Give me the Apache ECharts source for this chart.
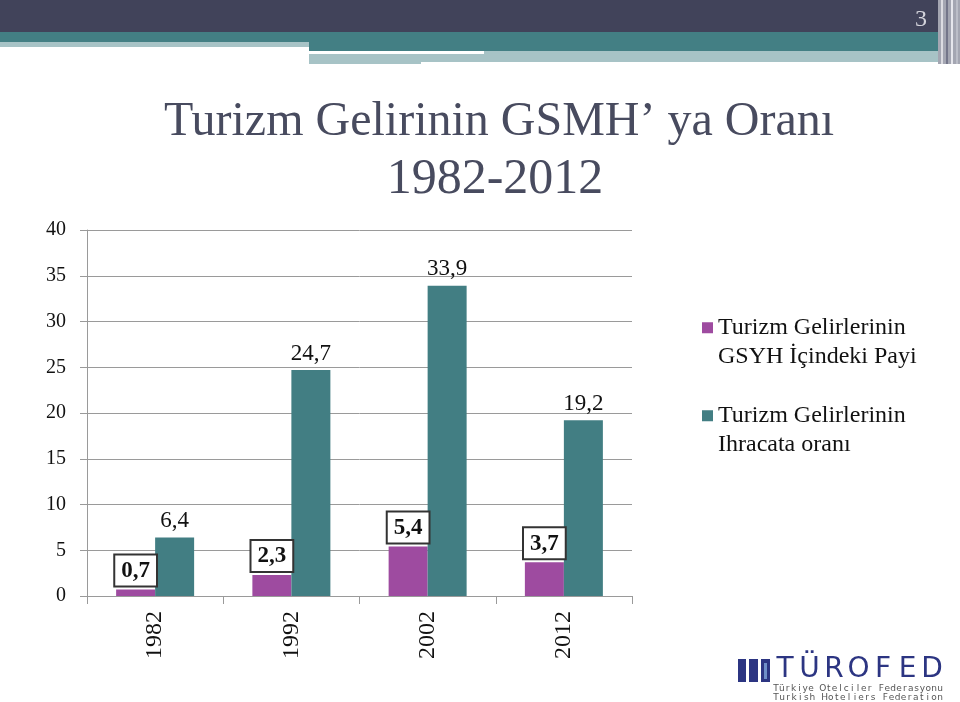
<!DOCTYPE html>
<html><head><meta charset="utf-8">
<script src="https://cdn.jsdelivr.net/npm/echarts@6/dist/echarts.min.js"></script>
<style>html,body{margin:0;padding:0;background:#fff}#c{width:960px;height:702px}</style>
</head><body><div id="c"></div>
<script>
var categories = ['1982', '1992', '2002', '2012'];
var gsyhPayi = [0.7, 2.3, 5.4, 3.7];
var ihracatOrani = [6.4, 24.7, 33.9, 19.2];
var seriesNames = ['Turizm Gelirlerinin\nGSYH İçindeki Payi', 'Turizm Gelirlerinin\nIhracata oranı'];
var titleLines = ['Turizm Gelirinin GSMH’ ya Oranı', '1982-2012'];

var serif = '"Liberation Serif", "Times New Roman", serif';
var fmt = function (p) { return String(p.value).replace('.', ','); };

function spaced(str, x0, x1, y, size, color, weight) {
  var els = [];
  var step = (x1 - x0) / (str.length - 1);
  for (var i = 0; i < str.length; i++) {
    els.push({ type: 'text', x: x0 + i * step, y: y,
      style: { text: str[i], fill: color, font: (weight || 'normal') + ' ' + size + 'px "DejaVu Sans", sans-serif', align: 'center', verticalAlign: 'middle' } });
  }
  return els;
}

var graphics = [
  { type: 'rect', shape: { x: 0, y: 0, width: 960, height: 32 }, style: { fill: '#41435a' } },
  { type: 'rect', shape: { x: 0, y: 32, width: 960, height: 10 }, style: { fill: '#437f84' } },
  { type: 'rect', shape: { x: 0, y: 42, width: 309, height: 5 }, style: { fill: '#a7c3c6' } },
  { type: 'rect', shape: { x: 309, y: 42, width: 651, height: 9 }, style: { fill: '#437f84' } },
  { type: 'rect', shape: { x: 309, y: 51, width: 651, height: 11 }, style: { fill: '#a7c3c6' } },
  { type: 'rect', shape: { x: 309, y: 51, width: 175, height: 3 }, style: { fill: '#ffffff' } },
  { type: 'rect', shape: { x: 421, y: 62, width: 63, height: 2 }, style: { fill: '#ffffff' } },
  { type: 'rect', shape: { x: 309, y: 62, width: 112, height: 2 }, style: { fill: '#a7c3c6' } },
  { type: 'rect', shape: { x: 938, y: 0, width: 22, height: 64 }, style: { fill: '#a4a6b2' } },
  { type: 'rect', shape: { x: 941, y: 0, width: 2, height: 64 }, style: { fill: '#dcdce2' } },
  { type: 'rect', shape: { x: 946, y: 0, width: 2, height: 64 }, style: { fill: '#74768a' } },
  { type: 'rect', shape: { x: 951, y: 0, width: 2, height: 64 }, style: { fill: '#e6e6ec' } },
  { type: 'rect', shape: { x: 956, y: 0, width: 2, height: 64 }, style: { fill: '#bcbec8' } },
  { type: 'text', x: 921, y: 20, style: { text: '3', fill: '#d4d4dc', font: '24px ' + serif, align: 'center', verticalAlign: 'middle' } },
  // logo
  { type: 'rect', shape: { x: 738, y: 659, width: 8, height: 23 }, style: { fill: '#2c3582' } },
  { type: 'rect', shape: { x: 749, y: 659, width: 9, height: 23 }, style: { fill: '#2c3582' } },
  { type: 'rect', shape: { x: 761, y: 659, width: 9, height: 23 }, style: { fill: '#2c3582' } },
  { type: 'rect', shape: { x: 764, y: 663, width: 3, height: 16 }, style: { fill: '#6f8fc8' } }
];
graphics = graphics.concat(spaced('TÜROFED', 785, 932, 670, 28, '#2c3582'));
graphics = graphics.concat(spaced('Türkiye Otelciler Federasyonu', 776, 940, 689, 9, '#555'));
graphics = graphics.concat(spaced('Turkish Hoteliers Federation', 776, 940, 698, 9, '#555'));

var legendIcon = 'path://M0,0h10v10h-10z M0,36h0.05v0.05h-0.05z';

var chart = echarts.init(document.getElementById('c'));
chart.setOption({
  animation: false,
  backgroundColor: '#ffffff',
  title: [
    { text: titleLines[0], left: 494, top: 93, textAlign: 'center',
      textStyle: { fontFamily: serif, fontSize: 48, fontWeight: 'normal', color: '#484b5f' } },
    { text: titleLines[1], left: 490, top: 150, textAlign: 'center',
      textStyle: { fontFamily: serif, fontSize: 50, fontWeight: 'normal', color: '#484b5f' } }
  ],
  grid: { left: 87, right: 328, top: 230, bottom: 106, containLabel: false },
  legend: {
    orient: 'vertical', left: 697, top: 308, itemWidth: 11, itemHeight: 40, itemGap: 30,
    icon: legendIcon,
    textStyle: { fontFamily: serif, fontSize: 24, color: '#111', lineHeight: 29 },
    data: seriesNames
  },
  xAxis: {
    type: 'category', data: categories,
    axisLine: { lineStyle: { color: '#9a9a9a', width: 1 } },
    axisTick: { show: true, length: 8, lineStyle: { color: '#9a9a9a' } },
    axisLabel: { rotate: 90, margin: 15, fontFamily: serif, fontSize: 24, color: '#111' }
  },
  yAxis: {
    type: 'value', min: 0, max: 40, interval: 5,
    axisLine: { show: true, lineStyle: { color: '#9a9a9a' } },
    axisTick: { show: true, length: 7, lineStyle: { color: '#9a9a9a' } },
    splitLine: { lineStyle: { color: '#9a9a9a' } },
    axisLabel: { margin: 21, fontFamily: serif, fontSize: 20, color: '#111' }
  },
  series: [
    { name: seriesNames[0], type: 'bar', data: gsyhPayi, barWidth: 39, barGap: '0%',
      itemStyle: { color: '#9e4ba0' },
      label: { show: true, position: 'top', distance: 4, formatter: fmt,
        fontFamily: serif, fontSize: 23, fontWeight: 'bold', color: '#111',
        backgroundColor: '#fff', borderColor: '#333', borderWidth: 2, padding: [4, 6, 3, 6] } },
    { name: seriesNames[1], type: 'bar', data: ihracatOrani, barWidth: 39,
      itemStyle: { color: '#427e83' },
      label: { show: true, position: 'top', distance: 5, formatter: fmt,
        fontFamily: serif, fontSize: 23, color: '#111' } }
  ],
  graphic: graphics
});
</script></body></html>
